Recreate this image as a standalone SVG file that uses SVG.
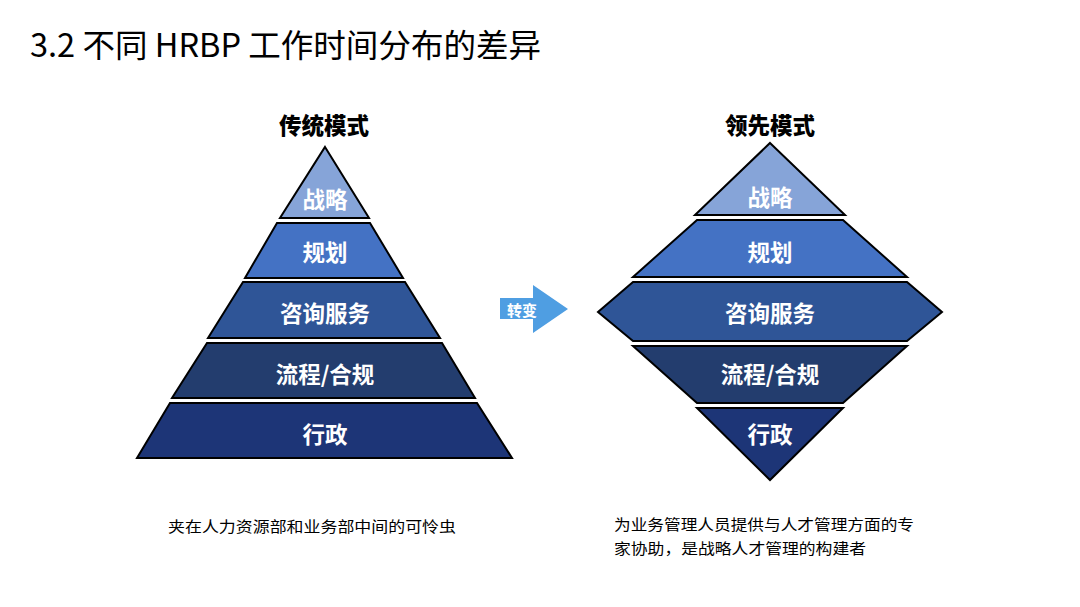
<svg xmlns="http://www.w3.org/2000/svg" width="1080" height="607" viewBox="0 0 1080 607">
<style>
.t{font-family:"Noto Sans CJK SC","Noto Sans",sans-serif}
.lay{stroke:#000;stroke-width:2;stroke-linejoin:miter}
.lbl{font-family:"Noto Sans CJK SC",sans-serif;font-weight:bold;font-size:22.5px;fill:#fff;text-anchor:middle;dominant-baseline:central}
.hd{font-family:"Noto Sans CJK SC",sans-serif;font-weight:900;font-size:22.5px;fill:#000;text-anchor:middle;dominant-baseline:central}
.c1{fill:#86a4d8}.c2{fill:#4472c4}.c3{fill:#2f5597}.c4{fill:#233d6e}.c5{fill:#1d3577}
.note{font-family:"Noto Sans CJK SC",sans-serif;font-size:15px;fill:#000}
</style>
<rect width="1080" height="607" fill="#fff"/>
<text class="t" x="30" y="57" font-size="32" fill="#000" textLength="511" lengthAdjust="spacingAndGlyphs">3.2 不同 HRBP 工作时间分布的差异</text>

<g id="left-pyramid">
<text class="hd" x="324" y="124">传统模式</text>
<g id="l-zhanlue"><polygon class="lay c1" points="325,147 369,218 280,218"/><text class="lbl" x="325" y="198">战略</text></g>
<g id="l-guihua"><polygon class="lay c2" points="277,223 370,223 403,278 245,278"/><text class="lbl" x="325" y="251">规划</text></g>
<g id="l-zixun"><polygon class="lay c3" points="243,282 405,282 440,338 208,338"/><text class="lbl" x="325" y="312">咨询服务</text></g>
<g id="l-liucheng"><polygon class="lay c4" points="207,343 442,343 475,398 172,398"/><text class="lbl" x="325" y="373">流程/合规</text></g>
<g id="l-xingzheng"><polygon class="lay c5" points="170,403 477,403 512,458 137,458"/><text class="lbl" x="325" y="433">行政</text></g>
</g>

<g id="arrow">
<polygon points="500,298 533,298 533,285 568,309 533,333 533,319 500,319" fill="#4f9ee2"/>
<text x="522" y="309" font-family="Noto Sans CJK SC,sans-serif" font-weight="bold" font-size="15" fill="#fff" text-anchor="middle" dominant-baseline="central">转变</text>
</g>

<g id="right-diamond">
<text class="hd" x="770" y="124">领先模式</text>
<g id="r-zhanlue"><polygon class="lay c1" points="770,143 845,215 695,215"/><text class="lbl" x="770" y="196">战略</text></g>
<g id="r-guihua"><polygon class="lay c2" points="697,220 843,220 907,277 633,277"/><text class="lbl" x="770" y="251">规划</text></g>
<g id="r-zixun"><polygon class="lay c3" points="633,282 907,282 942,312 907,341 633,341 598,312"/><text class="lbl" x="770" y="312">咨询服务</text></g>
<g id="r-liucheng"><polygon class="lay c4" points="633,346 907,346 843,403 697,403"/><text class="lbl" x="770" y="373">流程/合规</text></g>
<g id="r-xingzheng"><polygon class="lay c5" points="697,408 843,408 770,480"/><text class="lbl" x="770" y="433">行政</text></g>
</g>

<g id="connectors"></g>

<text class="note" x="168" y="532" textLength="288" lengthAdjust="spacingAndGlyphs">夹在人力资源部和业务部中间的可怜虫</text>
<text class="note" x="614" y="530" textLength="300" lengthAdjust="spacingAndGlyphs">为业务管理人员提供与人才管理方面的专</text>
<text class="note" x="614" y="554" textLength="252" lengthAdjust="spacingAndGlyphs">家协助，是战略人才管理的构建者</text>
</svg>
